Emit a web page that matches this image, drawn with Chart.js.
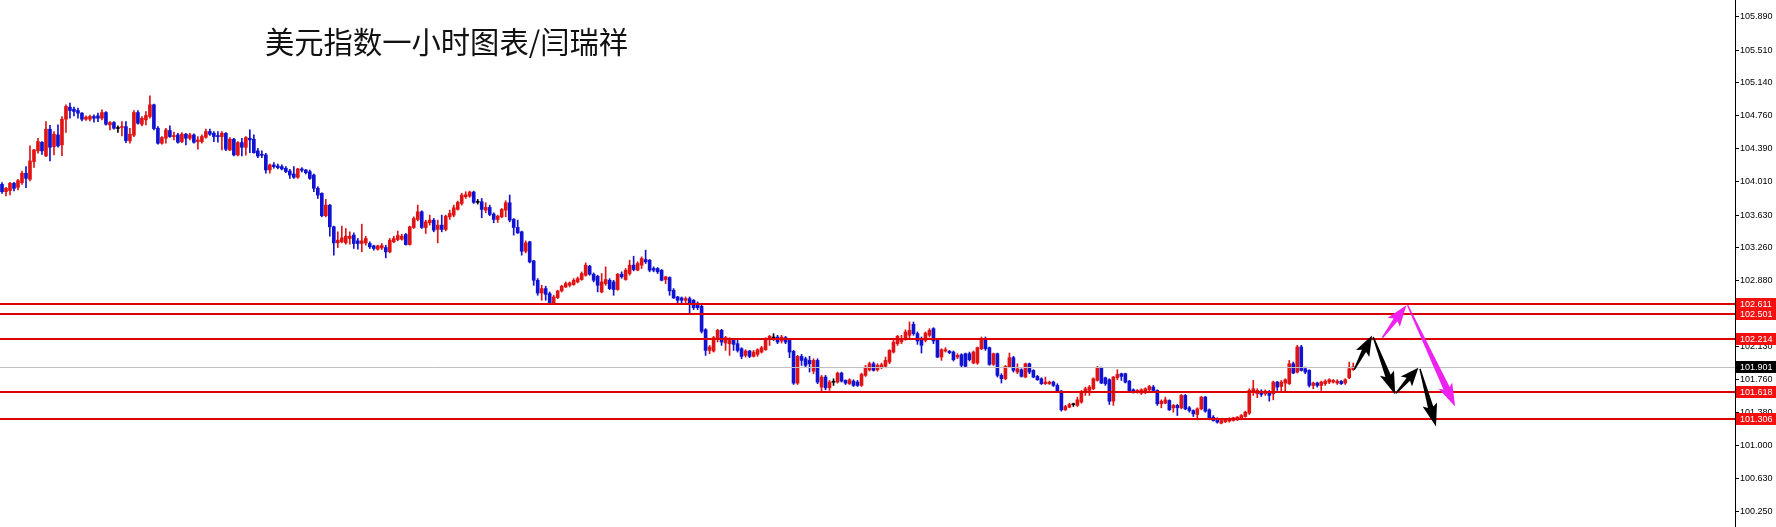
<!DOCTYPE html>
<html><head><meta charset="utf-8">
<script src="https://cdn.jsdelivr.net/npm/chart.js@4.4.1/dist/chart.umd.min.js"></script>
<style>html,body{margin:0;padding:0;background:#fff;overflow:hidden}canvas{display:block}</style>
</head><body><canvas id="c" width="1776" height="527"></canvas>
<script>
const titleText = '美元指数一小时图表/闫瑞祥';

const open = [
103.980,103.896,103.908,103.991,103.946,103.999,104.106,104.037,104.239,104.361,
104.459,104.303,104.608,104.410,104.543,104.429,104.722,104.859,104.836,104.821,
104.791,104.722,104.722,104.753,104.760,104.733,104.798,104.657,104.684,104.619,
104.627,104.638,104.475,104.540,104.798,104.665,104.714,104.753,104.886,104.619,
104.448,104.505,104.593,104.524,104.543,104.467,104.551,104.505,104.543,104.467,
104.467,104.517,104.581,104.562,104.536,104.524,104.562,104.372,104.494,104.315,
104.456,104.402,104.505,104.494,104.361,104.322,104.315,104.144,104.201,104.189,
104.182,104.163,104.132,104.098,104.060,104.155,
104.143,104.124,104.086,103.934,103.877,103.622,103.743,103.496,103.313,103.325,
103.313,103.363,103.401,103.336,103.306,103.313,103.306,103.279,103.241,103.256,
103.260,103.211,103.325,103.351,103.355,103.408,103.294,103.488,103.580,103.667,
103.488,103.542,103.572,103.466,103.515,103.466,103.610,103.629,103.694,103.762,
103.839,103.846,103.892,103.778,103.781,103.686,103.717,103.641,103.580,103.610,
103.686,103.770,103.580,103.488,103.439,103.218,103.325,103.108,102.887,102.742,
102.792,102.735,102.628,102.689,102.765,102.811,102.830,102.838,102.868,102.895,
102.944,103.047,102.956,102.933,
102.754,102.849,102.887,102.868,102.781,102.956,102.895,102.964,103.059,103.002,
103.059,103.123,103.116,103.021,103.021,103.002,102.895,102.918,102.773,102.697,
102.686,102.659,102.678,102.659,102.613,102.591,102.324,102.088,102.081,102.221,
102.317,102.172,102.164,102.202,102.164,102.107,102.031,102.081,102.020,102.043,
102.069,102.096,102.210,102.231,102.240,102.195,102.233,102.202,102.077,101.715,
102.020,101.993,101.974,101.852,101.974,101.670,101.784,101.662,101.729,101.727,
101.829,101.746,101.708,101.738,101.727,101.689,101.803,101.867,101.936,101.867,
101.898,101.906,101.955,102.069,102.164,
102.184,102.222,102.260,102.385,102.279,102.222,102.203,102.260,102.336,102.203,
102.012,102.081,102.077,102.069,102.012,102.039,102.050,102.050,101.944,101.944,
102.107,102.203,102.119,101.929,102.050,101.803,101.765,101.898,102.005,101.841,
101.868,101.784,101.936,101.860,101.792,101.765,101.708,101.708,101.727,101.689,
101.624,101.411,101.441,101.474,101.461,101.499,101.613,101.632,101.651,101.746,
101.891,101.776,101.754,101.510,101.776,101.822,101.822,101.738,101.639,101.613,
101.601,101.613,101.639,101.670,101.632,101.480,101.487,101.518,101.434,101.461,
101.434,101.575,101.434,101.403,101.358,101.422,
101.556,101.411,101.327,101.308,101.259,101.274,101.282,101.289,101.297,101.308,
101.335,101.373,101.613,101.594,101.624,101.594,101.613,101.594,101.727,101.677,
101.716,101.708,101.936,101.841,102.127,101.879,101.860,101.689,101.716,101.689,
101.708,101.727,101.727,101.716,101.735,101.716,101.776,101.868
];

const high = [
103.999,103.946,104.003,104.003,104.037,104.132,104.182,104.418,104.380,104.505,
104.467,104.695,104.653,104.581,104.657,104.753,104.886,104.905,104.859,104.848,
104.798,104.760,104.768,104.772,104.791,104.829,104.810,104.695,104.695,104.646,
104.695,104.695,104.619,104.821,104.821,104.753,104.810,104.988,104.893,104.638,
104.524,104.619,104.646,104.574,104.562,104.570,104.562,104.562,104.555,104.524,
104.543,104.608,104.608,104.581,104.581,104.581,104.570,104.513,104.505,104.467,
104.505,104.524,104.600,104.543,104.391,104.361,104.334,104.212,104.227,104.212,
104.201,104.182,104.151,104.182,104.163,104.170,
104.150,104.143,104.097,103.953,103.884,103.808,103.751,103.504,103.439,103.504,
103.477,103.439,103.427,103.363,103.526,103.389,103.325,103.287,103.287,103.306,
103.287,103.363,103.389,103.447,103.412,103.420,103.504,103.610,103.743,103.679,
103.572,103.629,103.591,103.572,103.629,103.629,103.686,103.743,103.789,103.877,
103.896,103.903,103.903,103.808,103.819,103.770,103.743,103.656,103.629,103.705,
103.793,103.858,103.591,103.572,103.447,103.336,103.332,103.115,102.906,102.830,
102.819,102.754,102.716,102.773,102.830,102.868,102.868,102.906,102.925,102.982,
103.085,103.058,102.971,102.944,
102.964,103.040,102.906,102.887,102.964,102.983,103.021,103.116,103.161,103.097,
103.154,103.230,103.123,103.040,103.032,103.009,102.933,102.926,102.792,102.705,
102.697,102.697,102.697,102.667,102.640,102.602,102.336,102.145,102.248,102.328,
102.328,102.248,102.233,102.221,102.202,102.119,102.096,102.088,102.088,102.107,
102.134,102.233,102.260,102.279,102.260,102.260,102.248,102.210,102.088,102.031,
102.043,102.012,102.020,101.993,101.993,101.803,101.803,101.746,101.765,101.841,
101.841,101.753,101.765,101.753,101.746,101.829,101.917,101.955,101.955,101.936,
101.944,102.012,102.096,102.202,102.260,
102.260,102.324,102.412,102.412,102.298,102.241,102.298,102.336,102.347,102.210,
102.107,102.119,102.088,102.081,102.050,102.050,102.058,102.069,102.081,102.127,
102.241,102.241,102.127,102.058,102.058,101.822,101.917,102.058,102.020,101.936,
101.879,101.944,101.944,101.868,101.803,101.776,101.784,101.738,101.738,101.708,
101.632,101.461,101.487,101.487,101.556,101.632,101.670,101.689,101.776,101.906,
101.898,101.784,101.765,101.792,101.868,101.829,101.829,101.746,101.651,101.643,
101.651,101.662,101.689,101.689,101.639,101.525,101.556,101.525,101.472,101.472,
101.586,101.586,101.449,101.411,101.434,101.563,
101.563,101.422,101.346,101.320,101.297,101.308,101.320,101.327,101.335,101.358,
101.396,101.651,101.746,101.651,101.639,101.639,101.632,101.738,101.735,101.746,
101.765,101.974,101.955,102.146,102.146,101.898,101.868,101.727,101.727,101.738,
101.754,101.765,101.757,101.754,101.746,101.765,101.955,101.944
];

const low = [
103.877,103.847,103.858,103.904,103.915,103.980,103.942,104.018,104.174,104.334,
104.322,104.296,104.246,104.315,104.402,104.307,104.570,104.733,104.760,104.733,
104.703,104.707,104.703,104.688,104.695,104.714,104.653,104.600,104.608,104.570,
104.532,104.456,104.448,104.524,104.665,104.646,104.657,104.733,104.600,104.437,
104.437,104.448,104.513,104.486,104.448,104.456,104.429,104.486,104.448,104.380,
104.448,104.505,104.536,104.467,104.459,104.372,104.364,104.364,104.303,104.303,
104.303,104.311,104.341,104.334,104.284,104.284,104.106,104.106,104.163,104.155,
104.144,104.113,104.048,104.048,104.048,104.120,
104.097,104.036,103.896,103.819,103.610,103.610,103.389,103.173,103.260,103.313,
103.298,103.298,103.249,103.241,103.211,103.287,103.249,103.230,103.230,103.237,
103.142,103.199,103.313,103.336,103.344,103.287,103.287,103.477,103.564,103.477,
103.420,103.515,103.439,103.313,103.439,103.450,103.580,103.610,103.686,103.743,
103.819,103.831,103.762,103.755,103.599,103.656,103.622,103.542,103.545,103.599,
103.610,103.553,103.401,103.420,103.173,103.199,103.085,102.830,102.716,102.659,
102.659,102.613,102.613,102.678,102.754,102.803,102.811,102.830,102.857,102.887,
102.933,102.944,102.868,102.754,
102.743,102.830,102.781,102.716,102.773,102.910,102.887,102.945,102.994,102.994,
103.021,103.078,102.983,102.983,102.964,102.880,102.849,102.716,102.678,102.621,
102.621,102.621,102.499,102.553,102.553,102.286,102.031,102.050,102.069,102.183,
102.145,102.088,102.031,102.088,102.069,101.993,102.012,102.005,102.012,102.020,
102.058,102.088,102.145,102.202,102.164,102.172,102.164,102.005,101.700,101.700,
101.917,101.898,101.841,101.822,101.708,101.612,101.639,101.632,101.689,101.715,
101.727,101.700,101.700,101.677,101.677,101.677,101.791,101.852,101.852,101.852,
101.879,101.890,101.936,102.058,102.145,
102.165,102.203,102.222,102.260,102.157,102.058,102.184,102.241,102.165,102.005,
101.974,102.069,102.050,101.967,101.993,101.898,101.898,101.967,101.936,101.929,
102.096,102.088,101.917,101.917,101.784,101.716,101.754,101.891,101.841,101.822,
101.784,101.776,101.822,101.776,101.746,101.700,101.700,101.700,101.677,101.613,
101.396,101.403,101.434,101.449,101.449,101.487,101.575,101.575,101.639,101.738,
101.708,101.689,101.472,101.461,101.754,101.746,101.716,101.613,101.601,101.601,
101.586,101.594,101.624,101.624,101.461,101.434,101.480,101.403,101.384,101.346,
101.422,101.411,101.384,101.335,101.297,101.411,
101.384,101.297,101.282,101.259,101.251,101.266,101.270,101.282,101.289,101.297,
101.327,101.358,101.575,101.548,101.563,101.575,101.510,101.525,101.632,101.613,
101.613,101.700,101.822,101.830,101.852,101.822,101.670,101.651,101.670,101.632,
101.689,101.708,101.716,101.700,101.700,101.700,101.765,101.860
];

const close = [
103.896,103.934,103.991,103.934,104.022,104.106,104.048,104.246,104.372,104.467,
104.361,104.608,104.402,104.551,104.418,104.722,104.867,104.821,104.810,104.791,
104.722,104.745,104.753,104.733,104.733,104.798,104.665,104.684,104.619,104.616,
104.638,104.478,104.551,104.798,104.676,104.733,104.764,104.886,104.615,104.448,
104.513,104.600,104.524,104.536,104.459,104.551,104.505,104.543,104.459,104.486,
104.524,104.581,104.551,104.524,104.524,104.562,104.380,104.494,104.315,104.456,
104.402,104.513,104.486,104.341,104.303,104.311,104.144,104.201,104.182,104.170,
104.155,104.125,104.086,104.060,104.155,104.140,
104.113,104.048,103.934,103.858,103.622,103.743,103.496,103.313,103.344,103.370,
103.389,103.389,103.306,103.306,103.336,103.363,103.268,103.249,103.279,103.283,
103.211,103.344,103.363,103.397,103.389,103.294,103.496,103.591,103.667,103.488,
103.553,103.572,103.458,103.515,103.466,103.618,103.648,103.713,103.774,103.858,
103.861,103.892,103.774,103.775,103.694,103.717,103.637,103.580,103.618,103.694,
103.770,103.572,103.488,103.427,103.218,103.313,103.096,102.887,102.742,102.792,
102.727,102.628,102.697,102.765,102.819,102.849,102.857,102.887,102.906,102.963,
103.058,102.956,102.887,102.830,
102.868,102.895,102.792,102.781,102.956,102.926,103.002,103.059,103.009,103.078,
103.135,103.097,103.002,103.002,102.983,102.887,102.926,102.766,102.686,102.659,
102.659,102.678,102.621,102.575,102.575,102.305,102.088,102.126,102.233,102.317,
102.183,102.233,102.202,102.157,102.088,102.020,102.081,102.020,102.069,102.096,
102.119,102.221,102.248,102.229,102.183,102.240,102.183,102.069,101.715,102.020,
101.974,101.917,101.936,101.974,101.727,101.784,101.662,101.727,101.725,101.829,
101.738,101.715,101.753,101.689,101.689,101.814,101.898,101.936,101.860,101.917,
101.925,101.974,102.088,102.183,102.248,
102.222,102.298,102.317,102.279,102.195,102.146,102.286,102.317,102.195,102.012,
102.096,102.096,102.062,101.982,102.031,101.917,101.906,101.982,102.069,102.119,
102.210,102.107,101.929,102.050,101.803,101.765,101.906,102.005,101.860,101.879,
101.792,101.936,101.841,101.784,101.754,101.708,101.727,101.727,101.689,101.624,
101.411,101.449,101.472,101.470,101.525,101.620,101.651,101.670,101.765,101.891,
101.716,101.708,101.510,101.784,101.814,101.792,101.727,101.624,101.613,101.632,
101.639,101.651,101.677,101.632,101.480,101.510,101.525,101.411,101.461,101.434,
101.575,101.422,101.403,101.365,101.422,101.556,
101.396,101.308,101.289,101.270,101.289,101.297,101.308,101.320,101.327,101.346,
101.384,101.632,101.651,101.632,101.586,101.624,101.575,101.727,101.670,101.727,
101.754,101.936,101.830,102.127,101.860,101.841,101.689,101.716,101.689,101.727,
101.738,101.754,101.746,101.738,101.708,101.754,101.879,101.901
];

const tickValues = [105.890,105.510,105.140,104.760,104.390,104.010,103.630,103.260,102.880,102.500,102.130,101.760,101.380,101.000,100.630,100.250];
const levelPrices = [102.611,102.501,102.214,101.618,101.306];
const currentPrice = 101.901;
// arrows: [fromIndex, fromPrice, toIndex, toPrice]
const blackArrows = [[338.25,101.867,342.7,102.259],[343.0,102.240,348.5,101.585],[348.7,101.600,354.3,101.890],[354.7,101.878,358.7,101.220]];
const magentaArrows = [[345.3,102.232,351.3,102.602],[351.6,102.602,363.5,101.449]];
const slotCount = 434;
const yMin = 100.076, yMax = 106.080;

const UP = '#e01414', DOWN = '#1212d2', DOJI = '#000000';
const slotLabels = Array.from({length: slotCount}, () => '');
const colors = open.map((o, i) => Math.abs(close[i] - o) < 0.005 ? DOJI : (close[i] > o ? UP : DOWN));
const bodies = open.map((o, i) => [Math.min(o, close[i]), Math.max(o, close[i])]);
const wicks = open.map((o, i) => [low[i], high[i]]);

function drawArrow(ctx, x0, y0, x1, y1, color) {
  const dx = x1 - x0, dy = y1 - y0, len = Math.hypot(dx, dy);
  const ux = dx / len, uy = dy / len, nx = -uy, ny = ux;
  const hl = Math.min(20, len * 0.45), hw = 7.5, sw = Math.min(3.4, 1.6 + len * 0.02), tw = 0.7;
  const bx = x1 - ux * hl, by = y1 - uy * hl;
  ctx.fillStyle = color;
  ctx.beginPath();
  ctx.moveTo(x0 + nx * tw, y0 + ny * tw);
  ctx.lineTo(bx + nx * sw, by + ny * sw);
  ctx.lineTo(bx - ux * 3 + nx * hw, by - uy * 3 + ny * hw);
  ctx.lineTo(x1, y1);
  ctx.lineTo(bx - ux * 3 - nx * hw, by - uy * 3 - ny * hw);
  ctx.lineTo(bx - nx * sw, by - ny * sw);
  ctx.lineTo(x0 - nx * tw, y0 - ny * tw);
  ctx.closePath();
  ctx.fill();
}

const overlay = {
  id: 'overlay',
  afterDatasetsDraw(chart) {
    const {ctx, chartArea: a, scales: {x, y}} = chart;
    ctx.save();
    const gy = Math.round(y.getPixelForValue(currentPrice)) + 0.5;
    ctx.strokeStyle = '#c0c0c0'; ctx.lineWidth = 1;
    ctx.beginPath(); ctx.moveTo(a.left, gy); ctx.lineTo(a.right, gy); ctx.stroke();
    ctx.strokeStyle = '#dd0000'; ctx.lineWidth = 2;
    levelPrices.forEach(v => {
      const p = Math.round(y.getPixelForValue(v));
      ctx.beginPath(); ctx.moveTo(a.left, p); ctx.lineTo(a.right, p); ctx.stroke();
    });
    blackArrows.forEach(r => drawArrow(ctx, x.getPixelForValue(r[0]), y.getPixelForValue(r[1]), x.getPixelForValue(r[2]), y.getPixelForValue(r[3]), '#000000'));
    magentaArrows.forEach(r => drawArrow(ctx, x.getPixelForValue(r[0]), y.getPixelForValue(r[1]), x.getPixelForValue(r[2]), y.getPixelForValue(r[3]), '#ee22ee'));
    ctx.restore();
  },
  afterDraw(chart) {
    const {ctx, chartArea: a, scales: {y}} = chart;
    ctx.save();
    ctx.font = '9px "Liberation Sans", Arial, sans-serif';
    ctx.textBaseline = 'middle';
    ctx.textAlign = 'left';
    const box = (v, bg) => {
      const p = Math.round(y.getPixelForValue(v));
      ctx.fillStyle = bg;
      ctx.fillRect(a.right + 1, p - 6, 41, 12);
      ctx.fillStyle = '#ffffff';
      ctx.fillText(v.toFixed(3), a.right + 5, p + 0.5);
    };
    box(currentPrice, '#000000');
    levelPrices.forEach(v => box(v, '#f51010'));
    ctx.font = '29.3px "Noto Sans CJK SC", sans-serif';
    ctx.textBaseline = 'alphabetic';
    ctx.fillStyle = '#111111';
    ctx.fillText(titleText, 265, 53);
    ctx.restore();
  }
};

new Chart(document.getElementById('c'), {
  type: 'bar',
  data: {
    labels: slotLabels,
    datasets: [
      {data: wicks, backgroundColor: colors, barThickness: 1, grouped: false, order: 2},
      {data: bodies, backgroundColor: colors, barThickness: 3, grouped: false, minBarLength: 1, order: 1}
    ]
  },
  options: {
    responsive: false,
    animation: false,
    devicePixelRatio: 1,
    layout: {padding: 0},
    plugins: {legend: {display: false}, tooltip: {enabled: false}, title: {display: false}},
    scales: {
      x: {display: false, offset: true},
      y: {
        position: 'right', min: yMin, max: yMax,
        afterBuildTicks: s => { s.ticks = tickValues.map(v => ({value: v})); },
        afterFit: s => { s.width = 41; s.paddingTop = 0; s.paddingBottom = 0; },
        ticks: {autoSkip: false, padding: 1, color: '#000', font: {family: 'Liberation Sans', size: 9}, callback: v => Number(v).toFixed(3)},
        grid: {display: true, drawOnChartArea: false, drawTicks: true, tickLength: 4, color: '#000'},
        border: {display: true, color: '#000', width: 1}
      }
    }
  },
  plugins: [overlay]
});
</script>
</body></html>
